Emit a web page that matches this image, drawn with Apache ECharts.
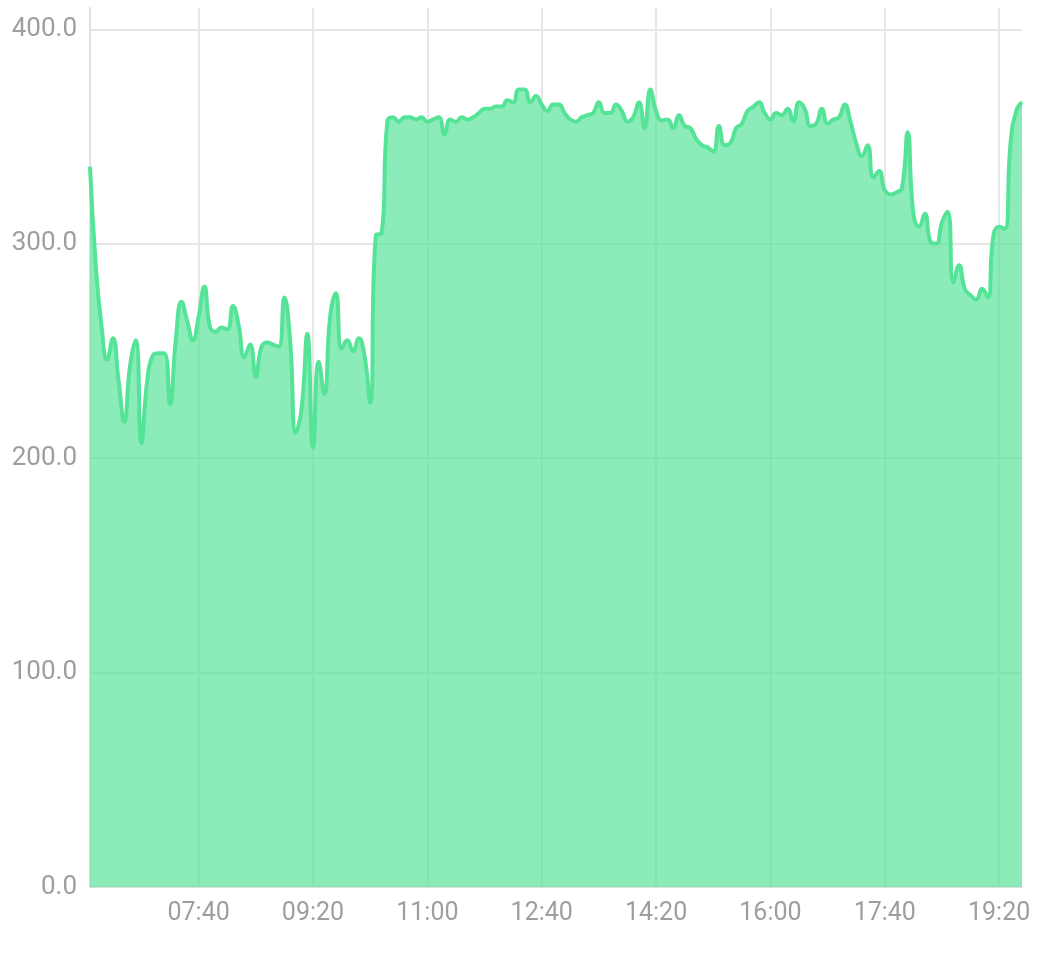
<!DOCTYPE html>
<html>
<head>
<meta charset="utf-8">
<script src="https://cdn.jsdelivr.net/npm/echarts@6/dist/echarts.min.js"></script>
<style>
html,body{margin:0;padding:0;background:#fff;}
#chart{width:1061px;height:959px;}
</style>
</head>
<body>
<div id="chart"></div>
<script>
// Time categories: every 5 minutes from 06:05 to 19:40
const startTime = '06:05';
const stepMinutes = 5;
const values = [
  336, 290, 262, 246, 256, 236, 217, 243, 255, 207,
  236, 248, 249, 249, 225, 255, 273, 264, 255, 266,
  280, 261, 259, 261, 260, 271, 262, 247, 253, 238,
  252, 254, 253, 252, 275, 255, 212, 223, 258, 205,
  245, 230, 266, 277, 251, 255, 250, 256, 248, 226,
  304, 305, 357, 359, 357, 359, 359, 358, 359, 357,
  358, 359, 351, 358, 357, 359, 358, 359, 361, 363,
  363, 364, 364, 367, 366, 372, 372, 366, 369, 365,
  362, 365, 365, 361, 358, 357, 359, 360, 361, 366,
  361, 361, 365, 362, 357, 359, 366, 354, 372, 362,
  357.6, 358, 354, 360, 355, 354, 349, 346, 345, 343,
  355, 346, 347, 354, 356, 362, 364, 366, 361, 358,
  361, 360, 363, 357, 366, 363, 355, 356, 363, 356,
  358, 359, 365, 357, 347, 341, 346, 331, 334, 325,
  323, 324, 326, 352, 314, 308, 314, 301, 300, 310,
  315, 282, 290, 279, 276, 274, 279, 275, 304, 308,
  307, 347, 362, 366
];
const xTickLabels = ['07:40', '09:20', '11:00', '12:40', '14:20', '16:00', '17:40', '19:20'];
const yTicks = [0, 100, 200, 300, 400];

function buildCategories(start, step, n) {
  const [h, m] = start.split(':').map(Number);
  const out = [];
  for (let i = 0; i < n; i++) {
    const t = h * 60 + m + i * step;
    const hh = String(Math.floor(t / 60)).padStart(2, '0');
    const mm = String(t % 60).padStart(2, '0');
    out.push(hh + ':' + mm);
  }
  return out;
}
const categories = buildCategories(startTime, stepMinutes, values.length);
const showTick = (idx) => xTickLabels.indexOf(categories[idx]) >= 0;

const chart = echarts.init(document.getElementById('chart'), null, {renderer: 'canvas'});
chart.setOption({
  animation: false,
  backgroundColor: '#ffffff',
  grid: {left: 90, right: 39, top: 8, bottom: 72, containLabel: false},
  xAxis: {
    type: 'category',
    data: categories,
    boundaryGap: false,
    axisLine: {show: true, lineStyle: {color: '#e0e0e0', width: 2}},
    axisTick: {show: false},
    axisLabel: {
      interval: (idx) => showTick(idx),
      color: '#9e9e9e',
      fontSize: 25,
      fontFamily: 'Roboto',
      margin: 14
    },
    splitLine: {
      show: true,
      interval: (idx) => showTick(idx),
      lineStyle: {color: '#e6e6e6', width: 2}
    }
  },
  yAxis: {
    type: 'value',
    min: yTicks[0],
    max: 410,
    interval: 100,
    axisLine: {show: true, lineStyle: {color: '#e0e0e0', width: 2}},
    axisTick: {show: false},
    axisLabel: {
      color: '#9e9e9e',
      fontSize: 26,
      fontFamily: 'Roboto',
      margin: 13,
      showMaxLabel: false,
      formatter: (v) => yTicks.indexOf(v) >= 0 ? v.toFixed(1) : ''
    },
    splitLine: {
      show: true,
      showMaxLine: false,
      showMinLine: false,
      lineStyle: {color: '#e6e6e6', width: 2}
    }
  },
  series: [{
    type: 'line',
    data: values,
    smooth: true,
    showSymbol: false,
    lineStyle: {color: '#55e398', width: 4},
    itemStyle: {color: '#55e398'},
    areaStyle: {color: '#55e398', opacity: 0.68}
  }]
});
</script>
</body>
</html>
